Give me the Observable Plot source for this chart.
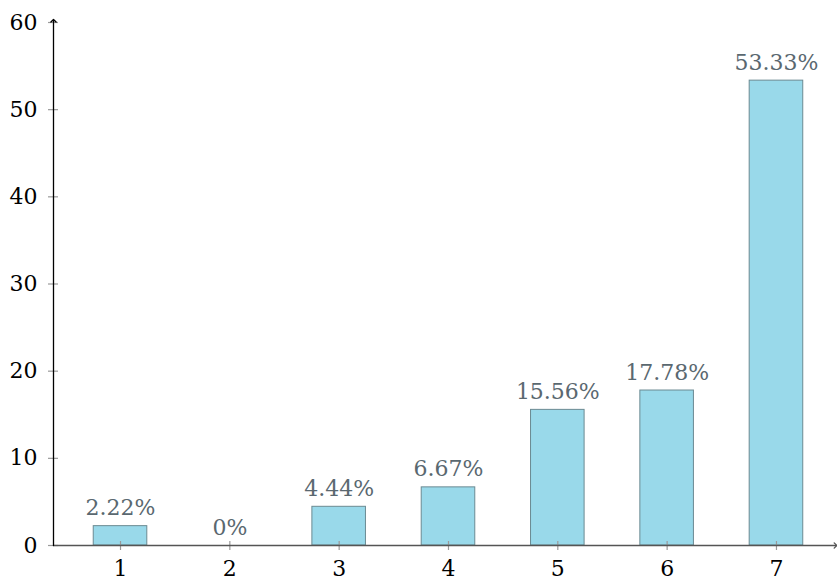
<!DOCTYPE html>
<html>
<head>
<meta charset="utf-8">
<script src="https://cdn.jsdelivr.net/npm/d3@7"></script>
<script src="https://cdn.jsdelivr.net/npm/@observablehq/plot@0.6"></script>
<style>
  html, body { margin: 0; padding: 0; background: #fff; }
  svg { display: block; }
  #chart svg text { font-family: "DejaVu Serif", serif !important; }
</style>
</head>
<body>
<div id="chart"></div>
<script>
const categories = [1, 2, 3, 4, 5, 6, 7];
const values = [2.22, 0, 4.44, 6.67, 15.56, 17.78, 53.33];
const labels = ["2.22%", "0%", "4.44%", "6.67%", "15.56%", "17.78%", "53.33%"];
const yTicks = [0, 10, 20, 30, 40, 50, 60];

const data = categories.map((c, i) => ({k: c, v: values[i], label: labels[i]}));
const xMin = 0.387, xMax = 7.54;

const chart = Plot.plot({
  width: 837,
  height: 581,
  marginLeft: 53,
  marginRight: 2,
  marginTop: 22,
  marginBottom: 36,
  style: {fontSize: "22px", background: "#fff"},
  x: {type: "linear", domain: [xMin, xMax], axis: null, label: null},
  y: {domain: [0, 60], axis: null, label: null},
  marks: [
    Plot.rectY(data, {
      x1: d => d.k - 0.245, x2: d => d.k + 0.245, y1: 0, y2: "v",
      fill: "#99d9ea", stroke: "#6b8a92", strokeWidth: 1
    }),
    Plot.axisY({anchor: "left", ticks: yTicks, tickSize: 10, dx: 5, text: null, label: null, stroke: "#9a9a9a", strokeWidth: 1.2}),
    Plot.axisY({anchor: "left", ticks: yTicks, tickSize: 0, tickPadding: 16, label: null, fill: "#000", fontSize: 22}),
    Plot.axisX({anchor: "bottom", ticks: categories, tickSize: 9, dy: -4, text: null, label: null, stroke: "#9a9a9a", strokeWidth: 1.2}),
    Plot.axisX({anchor: "bottom", ticks: categories, tickSize: 0, tickPadding: 15, label: null, fill: "#000", fontSize: 22}),
    Plot.line([[xMin, 0], [xMax, 0]], {stroke: "#555", strokeWidth: 1.3, markerEnd: "arrow"}),
    Plot.line([[xMin, 0], [xMin, 60.2]], {stroke: "#000", strokeWidth: 1.3, markerEnd: "arrow"}),
    Plot.text(data, {
      x: "k", y: "v", text: "label", dy: -18,
      fill: "#5a6870", fontSize: 22
    })
  ]
});
document.getElementById("chart").appendChild(chart);
</script>
</body>
</html>
